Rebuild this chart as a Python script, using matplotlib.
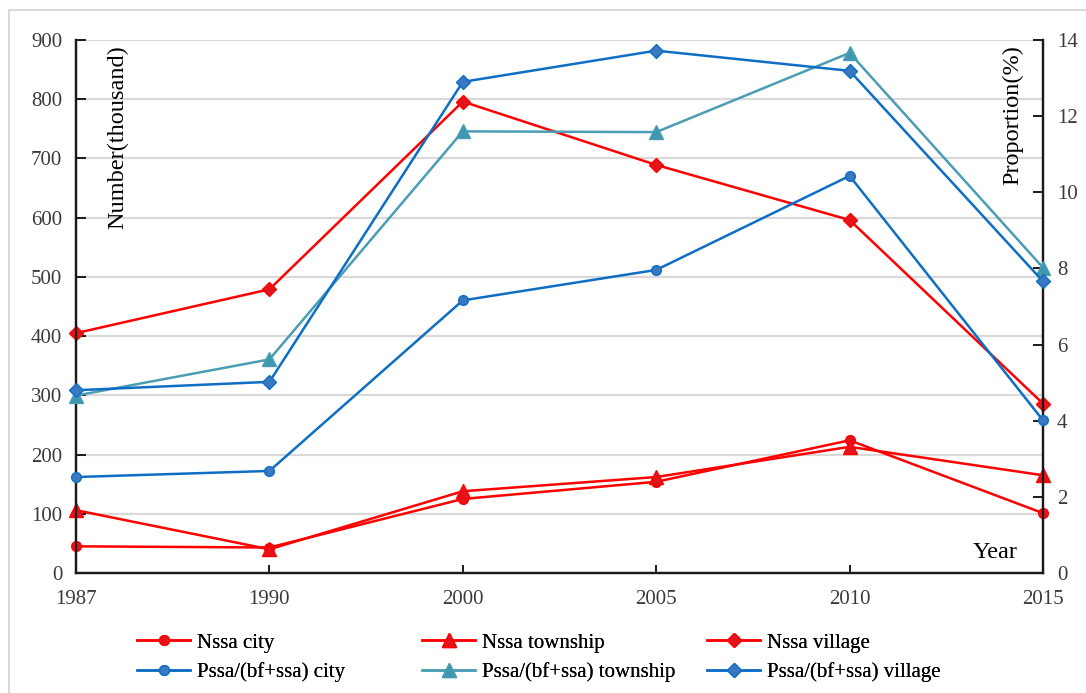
import matplotlib.pyplot as plt
from matplotlib.patches import Rectangle
import numpy as np

plt.rcParams['font.family'] = 'serif'
plt.rcParams['font.serif'] = ['Liberation Serif', 'DejaVu Serif']
SERIF = 'Liberation Serif'

years = ['1987', '1990', '2000', '2005', '2010', '2015']

# number of people (thousand), left axis
nssa_city = [45, 43, 125, 154, 224, 101]
nssa_township = [106, 40, 138, 162, 213, 165]
nssa_village = [405, 479, 796, 689, 596, 286]

# proportion (%), right axis
pssa_city = [2.52, 2.68, 7.16, 7.96, 10.43, 4.01]
pssa_township = [4.66, 5.61, 11.60, 11.58, 13.66, 8.02]
pssa_village = [4.80, 5.02, 12.90, 13.72, 13.19, 7.66]

left_ticks = list(range(0, 1000, 100))
right_ticks = list(range(0, 16, 2))

RED = '#ff0000'
RED_FACE = '#e3141b'
BLUE = '#0e6ec4'
BLUE_FACE = '#3a78c2'
TEAL = '#4a9db3'
TEAL_FACE = '#3d98b0'
TICK_COL = '#3a3a3a'

fig = plt.figure(figsize=(10.86, 6.93), dpi=100)
ax = fig.add_axes([0.070, 0.1732, 0.8904, 0.7691])
ax2 = ax.twinx()

x = np.arange(len(years))

lines = {}
lines['Nssa city'], = ax.plot(x, nssa_city, color=RED, lw=1.8, marker='o', ms=7,
                              mfc=RED_FACE, mec=RED, clip_on=False, zorder=3)
lines['Nssa township'], = ax.plot(x, nssa_township, color=RED, lw=1.8, marker='^', ms=9.5,
                                  mfc=RED_FACE, mec=RED, clip_on=False, zorder=3)
lines['Nssa village'], = ax.plot(x, nssa_village, color=RED, lw=1.8, marker='D', ms=7.5,
                                 mfc=RED_FACE, mec=RED, clip_on=False, zorder=3)
lines['Pssa/(bf+ssa) city'], = ax2.plot(x, pssa_city, color=BLUE, lw=1.8, marker='o', ms=7,
                                        mfc=BLUE_FACE, mec=BLUE, clip_on=False, zorder=3)
lines['Pssa/(bf+ssa) township'], = ax2.plot(x, pssa_township, color=TEAL, lw=1.8, marker='^', ms=9.5,
                                            mfc=TEAL_FACE, mec=TEAL, clip_on=False, zorder=3)
lines['Pssa/(bf+ssa) village'], = ax2.plot(x, pssa_village, color=BLUE, lw=1.8, marker='D', ms=7.5,
                                           mfc=BLUE_FACE, mec=BLUE, clip_on=False, zorder=3)

ax.set_xlim(0, len(years) - 1)
ax.set_ylim(0, 900)
ax2.set_ylim(0, 14)
ax.set_xticks(x)
ax.set_xticklabels(years)
ax.set_yticks(left_ticks)
ax2.set_yticks(right_ticks)

ax.yaxis.grid(True, color='#d9d9d9', lw=1.6)
ax.set_axisbelow(True)

for a in (ax, ax2):
    a.spines['top'].set_visible(False)
    for s in ('left', 'right', 'bottom'):
        a.spines[s].set_color('#1a1a1a')
        a.spines[s].set_linewidth(1.6)

ax.tick_params(axis='y', direction='in', length=7, width=1.4, color='#1a1a1a',
               labelsize=15, labelcolor=TICK_COL, pad=10, labelfontfamily=SERIF)
ax.tick_params(axis='x', direction='in', length=6, width=1.4, color='#1a1a1a',
               labelsize=15, labelcolor=TICK_COL, pad=12, labelfontfamily=SERIF)
ax2.tick_params(axis='y', direction='in', length=7, width=1.4, color='#1a1a1a',
                labelsize=15, labelcolor=TICK_COL, pad=10, labelfontfamily=SERIF)

fig.text(118 / 1086, 1 - 45 / 693, 'Number(thousand)', rotation=90, ha='center', va='top',
         fontsize=17.5, color='black', family=SERIF)
fig.text(1013 / 1086, 1 - 45 / 693, 'Proportion(%)', rotation=90, ha='center', va='top',
         fontsize=17.5, color='black', family=SERIF)
fig.text(1018 / 1086, 1 - 553 / 693, 'Year', ha='right', va='center', fontsize=17.5,
         color='black', family=SERIF)

# legend: three columns placed by hand
columns = [('Nssa city', 'Pssa/(bf+ssa) city'),
           ('Nssa township', 'Pssa/(bf+ssa) township'),
           ('Nssa village', 'Pssa/(bf+ssa) village')]
col_x = [137, 422, 707]
for names, cx in zip(columns, col_x):
    leg = fig.legend([lines[n] for n in names], list(names), loc='center left',
                     bbox_to_anchor=(cx / 1086, 1 - 657.5 / 693), frameon=False,
                     prop={'family': SERIF, 'size': 15}, handlelength=2.55,
                     handletextpad=0.35, labelspacing=0.45, borderpad=0, borderaxespad=0)
    fig.add_artist(leg)

# thin outer frame
fig.add_artist(Rectangle((9 / 1086, -0.1), 1.2, 1 - 10 / 693 + 0.1, transform=fig.transFigure,
                         fill=False, edgecolor='#d9d9d9', lw=1.5))

fig.savefig('out.png', dpi=100)
